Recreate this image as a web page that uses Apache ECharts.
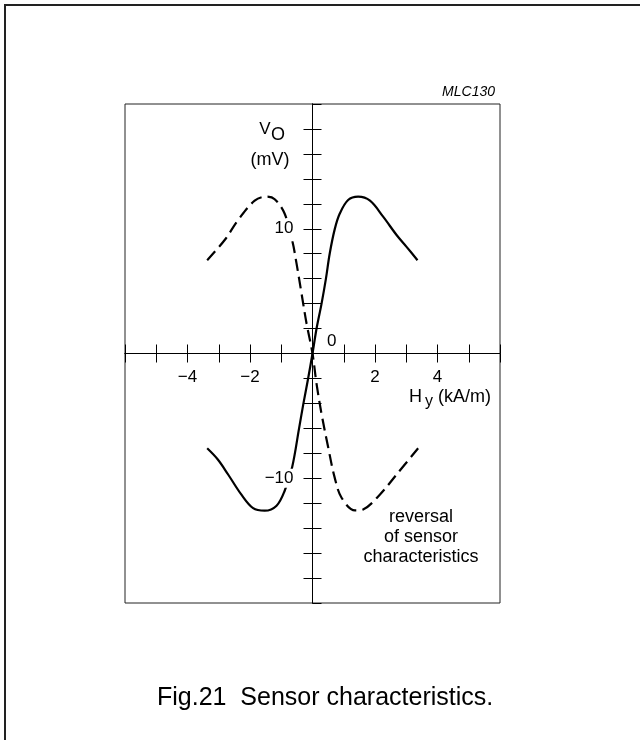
<!DOCTYPE html>
<html>
<head>
<meta charset="utf-8">
<script src="https://cdn.jsdelivr.net/npm/echarts@6/dist/echarts.min.js"></script>
<style>
html,body{margin:0;padding:0;background:#fff;}
#c{width:640px;height:740px;}
</style>
</head>
<body>
<div id="c"></div>
<script>
// Sensor output Vo (mV) versus field Hy (kA/m)
var solidX = [-3.37, -3.03, -2.70, -2.28, -1.90, -1.53, -1.15, -0.89, -0.65, -0.43, -0.29, -0.14, 0, 0.13, 0.29, 0.43, 0.55, 0.71, 0.87, 1.14, 1.46, 1.84, 2.26, 2.69, 3.01, 3.36];
var solidY = [-7.6, -8.5, -9.7, -11.3, -12.4, -12.6, -12.2, -11.0, -9.1, -6.0, -4.0, -2.0, 0, 2.0, 4.0, 6.0, 8.0, 9.95, 11.2, 12.3, 12.57, 12.25, 10.97, 9.5, 8.55, 7.48];
var dashX = [-3.37, -2.81, -2.38, -1.85, -1.47, -1.21, -0.89, -0.64, -0.51, -0.35, -0.19, 0, 0.13, 0.29, 0.50, 0.71, 0.93, 1.36, 1.62, 2.16, 2.69, 3.38];
var dashY = [7.48, 9.1, 10.7, 12.25, 12.57, 12.37, 11.2, 8.95, 7.2, 4.8, 2.4, 0, -2.44, -4.85, -7.5, -9.95, -11.56, -12.58, -12.5, -11.3, -9.7, -7.6];
var xTickLabels = {"-4": "\u22124", "-2": "\u22122", "2": "2", "4": "4"};
var yTickLabels = {"10": "10", "-10": "\u221210"};

function pairs(xs, ys) { return xs.map(function (x, i) { return [x, ys[i]]; }); }

var FONT = "'Liberation Sans', Arial, Helvetica, sans-serif";
var chart = echarts.init(document.getElementById('c'), null, {renderer: 'canvas'});

var GRID = {left: 125, top: 104, width: 375, height: 499};

function xAxisDef(inside, showLabel, offset) {
  return {
    type: 'value', min: -6, max: 6, interval: 1, position: 'bottom', offset: offset, z: 3,
    axisLine: {show: true, onZero: false, lineStyle: {color: '#000', width: 1}},
    axisTick: {show: true, inside: inside, length: 9, lineStyle: {color: '#000', width: 1}},
    splitLine: {show: false},
    axisLabel: {
      show: showLabel, margin: 15, fontFamily: FONT, fontSize: 17, color: '#000',
      formatter: function (v) { return xTickLabels[String(v)] || ''; }
    }
  };
}
function yAxisDef(inside, showLabel, offset) {
  return {
    type: 'value', min: -20, max: 20, interval: 2, position: 'left', offset: offset, z: 3,
    axisLine: {show: true, onZero: false, lineStyle: {color: '#000', width: 1}},
    axisTick: {show: true, inside: inside, length: 9, lineStyle: {color: '#000', width: 1}},
    splitLine: {show: false},
    axisLabel: {
      show: showLabel, margin: 18, fontFamily: FONT, fontSize: 17, color: '#000',
      showMinLabel: false, showMaxLabel: false,
      rich: {b: {fontFamily: FONT, fontSize: 17, color: '#000', backgroundColor: '#fff', padding: [1, 1, 1, 2]}},
      formatter: function (v) { var t = yTickLabels[String(v)]; return t ? '{b|' + t + '}' : ''; }
    }
  };
}

function buildOption(xOff, yOff) {
  return {
    backgroundColor: '#fff',
    animation: false,
    grid: {left: GRID.left, top: GRID.top, width: GRID.width, height: GRID.height, show: true, borderColor: '#222', borderWidth: 1, backgroundColor: 'transparent'},
    xAxis: [xAxisDef(false, true, xOff), xAxisDef(true, false, xOff)],
    yAxis: [yAxisDef(false, true, yOff), yAxisDef(true, false, yOff)],
    series: [
      {type: 'line', data: pairs(solidX, solidY), smooth: 0.35, showSymbol: false, symbol: 'none', z: 2,
       lineStyle: {color: '#000', width: 2.2, type: 'solid'}},
      {type: 'line', data: pairs(dashX, dashY), smooth: 0.35, showSymbol: false, symbol: 'none', z: 2,
       lineStyle: {color: '#000', width: 2.2, type: [12, 6]}}
    ],
    graphic: [
      {type: 'rect', silent: true, shape: {x: 5, y: 5, width: 800, height: 900},
       style: {fill: 'none', stroke: '#222', lineWidth: 2}},
      {type: 'text', x: 495, y: 92, style: {text: 'MLC130', font: 'italic 14px ' + FONT, fill: '#000', textAlign: 'right', textVerticalAlign: 'middle'}},
      {type: 'text', x: 265, y: 129, style: {text: 'V', font: '17px ' + FONT, fill: '#000', textAlign: 'center', textVerticalAlign: 'middle'}},
      {type: 'text', x: 278, y: 135, style: {text: 'O', font: '18px ' + FONT, fill: '#000', textAlign: 'center', textVerticalAlign: 'middle'}},
      {type: 'text', x: 270, y: 160, style: {text: '(mV)', font: '18px ' + FONT, fill: '#000', textAlign: 'center', textVerticalAlign: 'middle'}},
      {type: 'text', x: 327, y: 341, style: {text: '0', font: '17px ' + FONT, fill: '#000', textAlign: 'left', textVerticalAlign: 'middle'}},
      {type: 'text', x: 409, y: 397, style: {text: 'H', font: '18px ' + FONT, fill: '#000', textAlign: 'left', textVerticalAlign: 'middle'}},
      {type: 'text', x: 425, y: 402, style: {text: 'y', font: '16px ' + FONT, fill: '#000', textAlign: 'left', textVerticalAlign: 'middle'}},
      {type: 'text', x: 438, y: 397, style: {text: '(kA/m)', font: '18px ' + FONT, fill: '#000', textAlign: 'left', textVerticalAlign: 'middle'}},
      {type: 'text', x: 421, y: 537, style: {text: 'reversal\nof sensor\ncharacteristics', font: '18px ' + FONT, lineHeight: 20, fill: '#000', textAlign: 'center', textVerticalAlign: 'middle'}},
      {type: 'text', x: 157, y: 698, style: {text: 'Fig.21  Sensor characteristics.', font: '25px ' + FONT, fill: '#000', textAlign: 'left', textVerticalAlign: 'middle'}}
    ]
  };
}

// First pass: axes at the grid edges; then move them onto the zero lines
chart.setOption(buildOption(0, 0));
var zero = chart.convertToPixel({gridIndex: 0}, [0, 0]);
var xOffset = -((GRID.top + GRID.height) - zero[1]);
var yOffset = -(zero[0] - GRID.left);
chart.setOption(buildOption(xOffset, yOffset), true);
</script>
</body>
</html>
